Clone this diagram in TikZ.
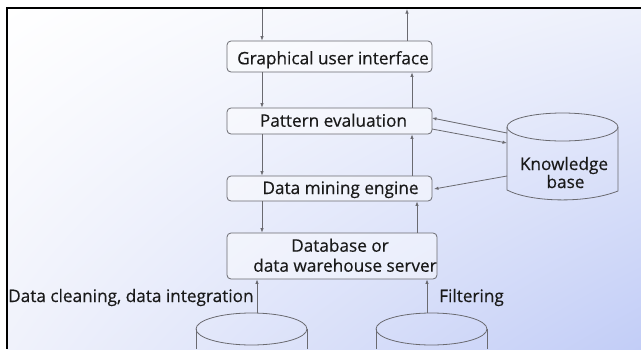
\documentclass[tikz,border=0pt]{standalone}
\usepackage{fontspec}
\setmainfont{Open Sans}
\newfontfamily\diagfont[FakeBold=0.4]{Open Sans}
\usetikzlibrary{arrows.meta,shadings}
\definecolor{edge}{HTML}{6A6A70}
\definecolor{txt}{HTML}{1A1A1A}
\definecolor{bgtr}{HTML}{EDF0FB}
\definecolor{bgbl}{HTML}{F0F2FB}
\definecolor{bgbr}{HTML}{C2CDF7}
\begin{document}
\begin{tikzpicture}[x=1pt,y=-1pt,
  box/.style={draw=edge, rounded corners=4pt, fill=white, fill opacity=0.45,
    line width=0.8pt, inner sep=0pt},
  conn/.style={draw=edge, line width=0.8pt, -{Latex[length=4.5pt,width=3.5pt]}},
  lbl/.style={text=txt, inner sep=0pt, anchor=base, font=\diagfont\fontsize{17.2}{20}\selectfont},
  cyl/.style={draw=edge, line width=0.8pt}]

\useasboundingbox (0,0) rectangle (641,349);
\fill[white] (0,0) rectangle (641,349);
\shade[upper left=white, upper right=bgtr, lower left=bgbl, lower right=bgbr]
  (7,8) rectangle (641,349);
\draw[line width=1.5pt, black] (7,349) -- (7,8) -- (641,8);

% boxes
\node[box, minimum width=205pt, minimum height=31pt] (gui) at (329.5,56.5) {};
\node[box, minimum width=205pt, minimum height=26pt] (pat) at (329.5,121) {};
\node[box, minimum width=205pt, minimum height=25pt] (dme) at (329.5,188.5) {};
\node[box, minimum width=210pt, minimum height=46pt] (db) at (332,256) {};
\node[lbl] (guit) at (333,64.3) {Graphical user interface};
\node[lbl] (patt) at (333.5,126.7) {Pattern evaluation};
\node[lbl] (dmet) at (340.5,194) {Data mining engine};
\node[lbl] (dbt1) at (340,251.7) {Database or};
\node[lbl] (dbt2) at (345,271.7) {data warehouse server};

% knowledge base cylinder
\draw[cyl] (507,127) -- (507,190) .. controls (530,202) and (585,204) .. (618,191) -- (618,127);
\draw[cyl] (562.5,127) ellipse [x radius=55.5, y radius=14];
\node[lbl] (kbt1) at (564,170) {Knowledge};
\node[lbl] (kbt2) at (565.5,188) {base};
\coordinate (kbin) at (507,143);
\coordinate (kbout1) at (507,133);
\coordinate (kbout2) at (507,176);

% bottom cylinders
\draw[cyl] (196,329) -- (196,349) (307,329) -- (307,349);
\draw[cyl] (251.5,329) ellipse [x radius=55.5, y radius=16];
\draw[cyl] (376,329) -- (376,349) (487,329) -- (487,349);
\draw[cyl] (431.5,329) ellipse [x radius=55.5, y radius=16];
\coordinate (src1) at (257,313);
\coordinate (src2) at (427,313);

% top free ends
\coordinate (topin) at (262,9);
\coordinate (topout) at (407,9);

% down arrows
\draw[conn] (topin) -- (topin |- gui.north);
\draw[conn] (gui.south -| topin) -- (pat.north -| topin);
\draw[conn] (pat.south -| topin) -- (dme.north -| topin);
\draw[conn] (dme.south -| topin) -- (db.north -| topin);

% up arrows
\draw[conn] (gui.north -| topout) -- (topout);
\coordinate (u1) at (412,0);
\draw[conn] (pat.north -| u1) -- (gui.south -| u1);
\draw[conn] (dme.north -| u1) -- (pat.south -| u1);
\coordinate (u2) at (417,0);
\draw[conn] (db.north -| u2) -- (dme.south -| u2);
\draw[conn] (src1) -- (src1 |- db.south);
\draw[conn] (src2) -- (src2 |- db.south);

% knowledge base arrows
\draw[conn] (kbout1) -- (432,118);
\draw[conn] (432,129) -- (kbin);
\draw[conn] (kbout2) -- (434,189);

% labels
\node[lbl, anchor=base west] (clean) at (8,302) {Data cleaning, data integration};
\node[lbl, anchor=base west] (filt) at (439,302) {Filtering};
\end{tikzpicture}
\end{document}
